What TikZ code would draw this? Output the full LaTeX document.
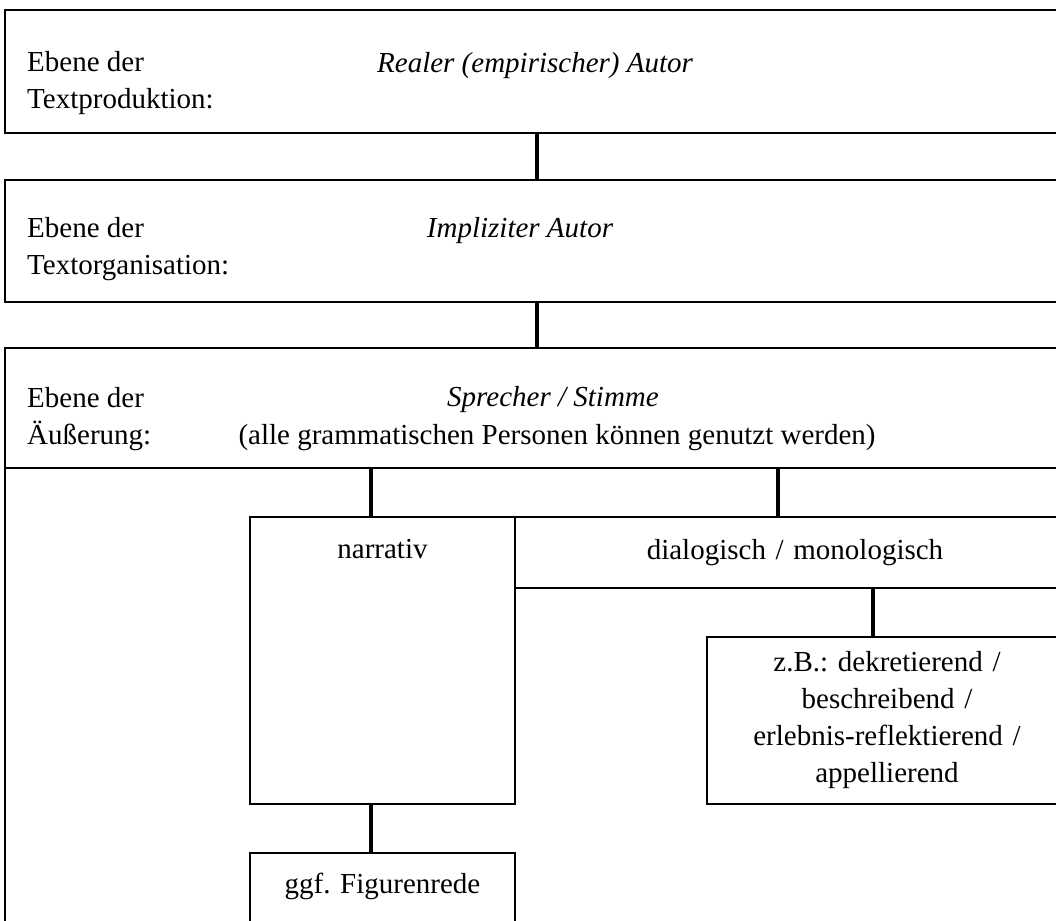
\documentclass[tikz,border=0pt]{standalone}
\usepackage{fontspec}
\setmainfont{Liberation Serif}
\usetikzlibrary{positioning}
\frenchspacing

\begin{document}
\begin{tikzpicture}[x=1pt,y=-1pt,
  font=\fontsize{29}{37}\selectfont,
  level/.style={rectangle,draw,line width=2pt,minimum width=1064pt,
    inner sep=0pt,outer sep=0pt,anchor=north west},
  ebene/.style={align=left,anchor=west,inner sep=0pt},
  titel/.style={inner sep=0pt,font=\fontsize{29}{37}\selectfont\itshape},
  feld/.style={rectangle,draw,line width=2pt,inner sep=0pt,outer sep=0pt,
    align=center,anchor=north west},
  edge/.style={line width=4pt}]
  \useasboundingbox (0,0) rectangle (1056,920);
  \clip (0,0) rectangle (1056,920);
  % die drei Ebenen
  \node[level,minimum height=123pt] (prod) at (5,10) {};
  \node[level,minimum height=122pt,below=47pt of prod] (org) {};
  \node[level,minimum height=120pt,below=46pt of org] (aeu) {};
  \node[level,minimum height=500pt,below=0pt of aeu] (rest) {};
  \node[ebene] (prodL) at (27,83) {Ebene der\\Textproduktion:};
  \node[titel] (prodT) at (535,66) {Realer (empirischer) Autor};
  \node[ebene] (orgL) at (27,249) {Ebene der\\Textorganisation:};
  \node[titel] (orgT) at (520,231) {Impliziter Autor};
  \node[ebene] (aeuL) at (27,419) {Ebene der\\Äußerung:};
  \node[titel] (aeuT) at (553,400) {Sprecher / Stimme};
  \node[inner sep=0pt] (aeuU) at (557,438) {(alle grammatischen Personen können genutzt werden)};
  % Redeformen
  \node[feld,text width=265pt,text height=41pt,text depth=246pt] (narr) at (250,517) {narrativ};
  \node[feld,text width=560pt,minimum height=71pt] (dial) at (narr.north east) {dialogisch / monologisch};
  \node[feld,text width=360pt,minimum height=167pt] (zb) at (707,637)
    {z.B.: dekretierend /\\beschreibend /\\erlebnis-reflektierend /\\appellierend};
  \node[feld,text width=265pt,text height=40pt,text depth=60pt] (fig) at (250,853) {ggf. Figurenrede};
  \coordinate (narrIn) at ([xshift=-12pt]narr.north);
  \coordinate (dialIn) at ([xshift=-17pt]dial.north);
  \coordinate (zbIn) at ([xshift=-14pt]zb.north);
  \coordinate (figIn) at ([xshift=-12pt]fig.north);
  \draw[edge] (prod.south) -- (org.north);
  \draw[edge] (org.south) -- (aeu.north);
  \draw[edge] (narrIn) -- (narrIn |- rest.north);
  \draw[edge] (dialIn) -- (dialIn |- rest.north);
  \draw[edge] (zbIn) -- (zbIn |- dial.south);
  \draw[edge] (figIn) -- (figIn |- narr.south);
\end{tikzpicture}
\end{document}
